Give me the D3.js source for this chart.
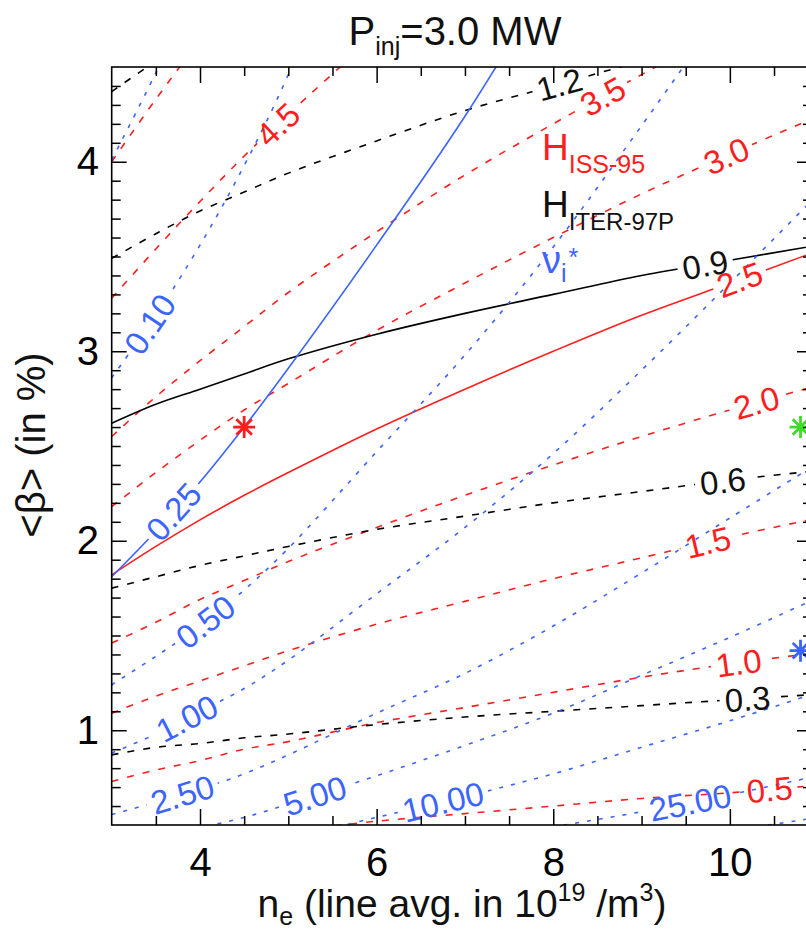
<!DOCTYPE html>
<html><head><meta charset="utf-8">
<script src="https://cdn.jsdelivr.net/npm/d3@7"></script>
<style>
body{margin:0;background:#fff}
svg{display:block}
text{font-family:"Liberation Sans",Arial,Helvetica,sans-serif}
</style>
</head><body>
<svg id="c" width="806" height="930"></svg>
<script>
// ---------- data (n_e in 1e19/m^3, beta in %) ----------
const nGrid = [3, 3.5, 4, 4.5, 5, 6, 7, 8, 9, 10, 11];

// H_ISS-95 contours (red)
const iss05 = [0.36, 0.39, 0.42, 0.45, 0.47, 0.52, 0.56, 0.60, 0.64, 0.67, 0.71];
const iss10 = [0.73, 0.79, 0.84, 0.90, 0.94, 1.04, 1.12, 1.20, 1.28, 1.35, 1.41];
const iss15 = [1.09, 1.18, 1.26, 1.34, 1.42, 1.56, 1.68, 1.80, 1.91, 2.02, 2.12];
const iss20 = [1.46, 1.57, 1.69, 1.79, 1.89, 2.07, 2.24, 2.40, 2.55, 2.69, 2.82];
const iss25 = [1.82, 1.97, 2.11, 2.24, 2.36, 2.59, 2.80, 3.00, 3.19, 3.36, 3.53];
const iss30 = [2.18, 2.36, 2.53, 2.69, 2.83, 3.11, 3.36, 3.60, 3.83, 4.04, 4.24];
const iss35 = [2.55, 2.76, 2.95, 3.13, 3.31, 3.63, 3.93, 4.20, 4.46, 4.71, 4.94];
const iss45 = [3.28, 3.54, 3.79, 4.03, 4.25, 4.67, 5.05];
const iss55 = [4.00, 4.33, 4.64, 4.92];
const issLevels = ["0.5", "1.0", "1.5", "2.0", "2.5", "3.0", "3.5", "4.5", "5.5"];
const issLabelN = [10.45, 10.1, 9.75, 10.3, 10.11, 9.96, 8.56, 4.88, null];

// H_ITER-97P contours (black)
const iter03 = [0.87, 0.91, 0.93, 0.96, 0.98, 1.03, 1.07, 1.10, 1.13, 1.16, 1.19];
const iter06 = [1.75, 1.81, 1.87, 1.92, 1.97, 2.06, 2.13, 2.20, 2.26, 2.32, 2.37];
const iter09 = [2.62, 2.72, 2.80, 2.88, 2.96, 3.09, 3.20, 3.30, 3.40, 3.48, 3.56];
const iter12 = [3.49, 3.62, 3.74, 3.84, 3.94, 4.11, 4.27, 4.40, 4.53, 4.64, 4.75];
const iter15 = [4.37, 4.53, 4.67];
const iterLevels = ["0.3", "0.6", "0.9", "1.2", "1.5"];
const iterLabelN = [10.2, 9.92, 9.72, 8.07, null];

// nu_i* contours (blue)
const nu005 = [4.01, 4.47, 4.99];
const nu010 = [2.86, 3.19, 3.56, 3.98, 4.46, 5.61];
const nu025 = [1.81, 2.05, 2.31, 2.60, 2.91, 3.56, 4.24, 5.00];
const nu050 = [1.24, 1.39, 1.55, 1.74, 1.96, 2.47, 2.98, 3.55, 4.19, 4.85];
const nu100 = [0.88, 0.98, 1.10, 1.22, 1.37, 1.72, 2.07, 2.46, 2.90, 3.36, 3.83];
const nu250 = [0.555, 0.62, 0.69, 0.77, 0.87, 1.09, 1.30, 1.55, 1.83, 2.12, 2.41];
const nu500 = [0.39, 0.435, 0.486, 0.54, 0.61, 0.76, 0.92, 1.09, 1.29, 1.49, 1.70];
const nu1000 = [0.275, 0.31, 0.34, 0.38, 0.43, 0.54, 0.65, 0.77, 0.91, 1.05, 1.20];
const nu2500 = [0.174, 0.19, 0.22, 0.24, 0.27, 0.34, 0.41, 0.49, 0.57, 0.66, 0.76];
const nu5000 = [0.123, 0.14, 0.15, 0.17, 0.19, 0.24, 0.29, 0.34, 0.41, 0.47, 0.54];
const nuLevels = ["0.05", "0.10", "0.25", "0.50", "1.00", "2.50", "5.00", "10.00", "25.00", "50.00"];
const nuLabelN = [null, 3.43, 3.70, 4.06, 3.85, 3.8, 5.3, 6.75, 9.55, null];

// marked operating points
const starN = [4.5, 10.8, 10.8];
const starBeta = [2.6, 2.6, 1.42];

// axes
const xMajor = [4, 6, 8, 10];
const xMinor = [3.5, 4.5, 5, 5.5, 6.5, 7, 7.5, 8.5, 9, 9.5, 10.5];
const yMajor = [1, 2, 3, 4];
const yMinor = d3.range(6, 45).filter(v => v % 10 !== 0).map(v => v / 10);

// ---------- drawing ----------
const RED = "#ff1e1e", BLUE = "#3c64ff", BLACK = "#000", GREEN = "#3ddc28";
const FONT = '"Liberation Sans", Arial, Helvetica, sans-serif';
const x = d3.scaleLinear().domain([3, 10.93]).range([111.7, 812]);
const y = d3.scaleLinear().domain([0.5, 4.5]).range([825, 67]);

const svg = d3.select("#c");
const defs = svg.append("defs");
defs.append("clipPath").attr("id", "plotclip").append("rect")
  .attr("x", x.range()[0]).attr("y", y.range()[1])
  .attr("width", x.range()[1] - x.range()[0]).attr("height", y.range()[0] - y.range()[1]);

const plot = svg.append("g").attr("clip-path", "url(#plotclip)");
const labelLayer = svg.append("g").attr("clip-path", "url(#plotclip)");

function interp(vals, n) {
  const m = vals.length;
  if (n <= nGrid[0]) return vals[0];
  for (let i = 0; i < m - 1; i++) {
    if (n <= nGrid[i + 1]) {
      const t = (n - nGrid[i]) / (nGrid[i + 1] - nGrid[i]);
      return vals[i] + t * (vals[i + 1] - vals[i]);
    }
  }
  return vals[m - 1];
}

let maskId = 0;
const lineGen = d3.line().x(d => x(d[0])).y(d => y(d[1])).curve(d3.curveCatmullRom.alpha(0.5));
function drawContour(vals, level, labelN, color, dash, labelColor) {
  const pts = vals.map((b, i) => [nGrid[i], b]);
  const path = plot.append("path").attr("d", lineGen(pts))
    .attr("fill", "none").attr("stroke", color).attr("stroke-width", 1.6);
  if (dash) path.attr("stroke-dasharray", dash);
  if (labelN != null) {
    const b = interp(vals, labelN);
    const px = x(labelN), py = y(b);
    const b1 = interp(vals, labelN - 0.2), b2 = interp(vals, labelN + 0.2);
    const ang = Math.atan2(y(b2) - y(b1), x(labelN + 0.2) - x(labelN - 0.2)) * 180 / Math.PI;
    const tr = `translate(${px},${py}) rotate(${ang})`;
    const t = labelLayer.append("text").attr("transform", tr)
      .attr("text-anchor", "middle").attr("dy", "0.36em")
      .attr("font-size", 33).attr("fill", labelColor).text(level);
    const len = t.node().getComputedTextLength();
    const id = "m" + (maskId++);
    const mask = defs.append("mask").attr("id", id).attr("maskUnits", "userSpaceOnUse")
      .attr("x", 0).attr("y", 0).attr("width", 806).attr("height", 930);
    mask.append("rect").attr("x", 0).attr("y", 0).attr("width", 806).attr("height", 930).attr("fill", "white");
    mask.append("rect").attr("x", -len / 2 - 5).attr("y", -14).attr("width", len + 10).attr("height", 28)
      .attr("fill", "black").attr("transform", tr);
    path.attr("mask", `url(#${id})`);
  }
}

const issSeries = [iss05, iss10, iss15, iss20, iss25, iss30, iss35, iss45, iss55];
issSeries.forEach((v, i) => drawContour(v, issLevels[i], issLabelN[i], RED,
  issLevels[i] === "2.5" ? null : "7,9", RED));
const iterSeries = [iter03, iter06, iter09, iter12, iter15];
iterSeries.forEach((v, i) => drawContour(v, iterLevels[i], iterLabelN[i], BLACK,
  iterLevels[i] === "0.9" ? null : "7,9", "#111"));
const nuSeries = [nu005, nu010, nu025, nu050, nu100, nu250, nu500, nu1000, nu2500, nu5000];
nuSeries.forEach((v, i) => drawContour(v, nuLevels[i], nuLabelN[i], BLUE,
  nuLevels[i] === "0.25" ? null : "4,8", BLUE));

// stars
const starColors = [RED, GREEN, BLUE];
const starG = svg.append("g");
starN.forEach((n, i) => {
  const cx = x(n), cy = y(starBeta[i]), r = 11;
  let d = "";
  for (let k = 0; k < 4; k++) {
    const a = k * Math.PI / 4;
    d += `M${cx - r * Math.cos(a)},${cy - r * Math.sin(a)}L${cx + r * Math.cos(a)},${cy + r * Math.sin(a)}`;
  }
  starG.append("path").attr("d", d).attr("stroke", starColors[i]).attr("stroke-width", 2.8).attr("fill", "none");
});

// legend texts
const leg = svg.append("g").attr("font-family", FONT);
const t1 = leg.append("text").attr("x", 542).attr("y", 160).attr("fill", RED).attr("font-size", 37);
t1.append("tspan").text("H");
t1.append("tspan").attr("font-size", 25).attr("dy", 13).text("ISS-95");
const t2 = leg.append("text").attr("x", 542).attr("y", 217).attr("fill", "#111").attr("font-size", 37);
t2.append("tspan").text("H");
t2.append("tspan").attr("font-size", 24).attr("dy", 13).text("ITER-97P");
const t3 = leg.append("text").attr("x", 542).attr("y", 273).attr("fill", BLUE).attr("font-size", 38);
t3.append("tspan").text("ν");
t3.append("tspan").attr("font-size", 25).attr("dy", 9).text("i");
t3.append("tspan").attr("font-size", 25).attr("dy", -16).attr("dx", 2).text("*");

// axes
function addAxis(axis, tx, ty) {
  const g = svg.append("g").attr("transform", `translate(${tx},${ty})`).call(axis);
  g.attr("font-size", 40).attr("font-family", FONT);
  g.select(".domain").remove();
  g.selectAll("line").attr("stroke", "#000").attr("stroke-width", 1.5);
  g.selectAll("text").attr("fill", "#000");
  return g;
}
const x0 = x.range()[0], x1 = x.range()[1], y0 = y.range()[0], y1 = y.range()[1];
addAxis(d3.axisBottom(x).tickValues(xMajor).tickSize(-16).tickPadding(23).tickFormat(d3.format("d")), 0, y0);
addAxis(d3.axisBottom(x).tickValues(xMinor).tickSize(-9).tickFormat(""), 0, y0);
addAxis(d3.axisTop(x).tickValues(xMajor).tickSize(-16).tickFormat(""), 0, y1);
addAxis(d3.axisTop(x).tickValues(xMinor).tickSize(-9).tickFormat(""), 0, y1);
addAxis(d3.axisLeft(y).tickValues(yMajor).tickSize(-15).tickPadding(12.7).tickFormat(d3.format("d")), x0, 0);
addAxis(d3.axisLeft(y).tickValues(yMinor).tickSize(-9).tickFormat(""), x0, 0);
addAxis(d3.axisRight(y).tickValues(yMajor).tickSize(-15).tickFormat(""), x1, 0);
addAxis(d3.axisRight(y).tickValues(yMinor).tickSize(-9).tickFormat(""), x1, 0);

svg.append("rect").attr("x", x0).attr("y", y1).attr("width", x1 - x0).attr("height", y0 - y1)
  .attr("fill", "none").attr("stroke", "#000").attr("stroke-width", 1.6);

// title
const title = svg.append("text").attr("x", 455).attr("y", 45).attr("text-anchor", "middle")
  .attr("font-size", 40).attr("fill", "#111").attr("font-family", FONT);
title.append("tspan").text("P");
title.append("tspan").attr("font-size", 25).attr("dy", 10).text("inj");
title.append("tspan").attr("dy", -10).text("=3.0 MW");

// x label
const xl = svg.append("text").attr("x", 462).attr("y", 917).attr("text-anchor", "middle")
  .attr("font-size", 39).attr("fill", "#111").attr("font-family", FONT);
xl.append("tspan").text("n");
xl.append("tspan").attr("font-size", 25).attr("dy", 8).text("e");
xl.append("tspan").attr("dy", -8).text(" (line avg. in 10");
xl.append("tspan").attr("font-size", 25).attr("dy", -16).text("19");
xl.append("tspan").attr("dy", 16).text(" /m");
xl.append("tspan").attr("font-size", 25).attr("dy", -16).text("3");
xl.append("tspan").attr("dy", 16).text(")");

// y label
svg.append("text").attr("transform", "translate(45,445) rotate(-90)").attr("text-anchor", "middle")
  .attr("font-size", 40).attr("fill", "#111").attr("font-family", FONT).text("<β> (in %)");
</script>
</body></html>
